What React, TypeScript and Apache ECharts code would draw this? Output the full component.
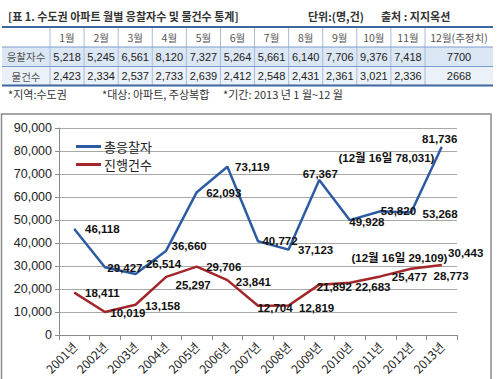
import React, { useEffect, useRef } from "react";
import * as echarts from "echarts";

// ---- chart data ----
const years = ["2001년", "2002년", "2003년", "2004년", "2005년", "2006년", "2007년", "2008년", "2009년", "2010년", "2011년", "2012년", "2013년"];
const totalBidders = [46118, 29427, 26514, 36660, 62093, 73119, 40772, 37123, 67367, 49928, 53820, 53268, 81736];
const caseCounts = [18411, 10019, 13158, 25297, 29706, 23841, 12704, 12819, 21892, 22683, 25477, 28773, 30443];
const seriesNames = ["총응찰자", "진행건수"];
const yTicks = [0, 10000, 20000, 30000, 40000, 50000, 60000, 70000, 80000, 90000];
const bidderNote = "(12월 16일 78,031)";
const caseNote = "(12월 16일 29,109)";
const bidderNoteValue = 77000;
const caseNoteValue = 33500;

// ---- table data ----
const tableTitle = "[표 1. 수도권 아파트 월별 응찰자수 및 물건수 통계]";
const unitText = "단위:(명,건)";
const sourceText = "출처 : 지지옥션";
const months = ["1월", "2월", "3월", "4월", "5월", "6월", "7월", "8월", "9월", "10월", "11월", "12월(추정치)"];
const rowLabels = ["응찰자수", "물건수"];
const monthlyBidders = ["5,218", "5,245", "6,561", "8,120", "7,327", "5,264", "5,661", "6,140", "7,706", "9,376", "7,418", "7700"];
const monthlyCases = ["2,423", "2,334", "2,537", "2,733", "2,639", "2,412", "2,548", "2,431", "2,361", "3,021", "2,336", "2668"];
const footnotes = ["*지역:수도권", "*대상: 아파트, 주상복합", "*기간: 2013 년 1 월~12 월"];

// label offsets (layout only)
const bidderLabelOffsets = [[28, 0], [20, 1], [28, -10], [23, -5], [27, 1], [25, 0], [22, 0], [27, 0], [1, -6], [17, 2], [18, 0], [29, 2], [-2, -8]];
const caseLabelOffsets = [[28, 0], [23, 1], [27, 1], [27, 8], [27, 0], [26, 2], [17, 2], [28, 2], [15, 2], [23, 4], [29, 1], [40, 7], [24, -12]];

const BLUE = "#2d5ba3";
const RED = "#a3262a";
const KFONT = '"Noto Sans CJK KR", "Liberation Sans", sans-serif';
const NFONT = '"Liberation Sans", "Noto Sans CJK KR", sans-serif';

function text(x: number, y: number, t: string, opts: any = {}) {
  return {
    type: "text",
    x,
    y,
    silent: true,
    z: 10,
    style: {
      text: t,
      fill: opts.fill || "#333",
      fontSize: opts.fontSize || 11,
      fontWeight: opts.fontWeight || "normal",
      fontFamily: opts.fontFamily || KFONT,
      align: opts.align || "left",
      verticalAlign: "middle",
      textAlign: opts.align || "left",
      textVerticalAlign: "middle",
    },
  };
}

function buildTable() {
  const els: any[] = [];
  const left = 2;
  const firstColRight = 50;
  const lastColLeft = 425;
  const right = 493;
  const colW = (lastColLeft - firstColRight) / 11;
  const bounds: number[] = [left, firstColRight];
  for (let i = 1; i <= 11; i++) bounds.push(firstColRight + colW * i);
  bounds.push(right);
  const rowTops = [27, 47, 66.5, 85.5];
  const fills = ["#ffffff", "#dce7f5", "#ebf1f9"];
  for (let r = 0; r < 3; r++) {
    els.push({
      type: "rect",
      silent: true,
      z: 1,
      shape: { x: left, y: rowTops[r], width: right - left, height: rowTops[r + 1] - rowTops[r] },
      style: { fill: fills[r] },
    });
  }
  for (let i = 1; i < bounds.length - 1; i++) {
    els.push({
      type: "line",
      silent: true,
      z: 2,
      shape: { x1: bounds[i], y1: rowTops[0], x2: bounds[i], y2: rowTops[3] },
      style: { stroke: "#a9bcd8", lineWidth: 1 },
    });
  }
  rowTops.forEach((y, i) => {
    const outer = i === 0 || i === rowTops.length - 1;
    els.push({
      type: "line",
      silent: true,
      z: 3,
      shape: { x1: left, y1: y, x2: right, y2: y },
      style: { stroke: outer ? "#3f679f" : "#7a9ccc", lineWidth: outer ? 2 : 1 },
    });
  });
  const center = (c: number) => (bounds[c] + bounds[c + 1]) / 2;
  const mid = (r: number) => (rowTops[r] + rowTops[r + 1]) / 2;
  months.forEach((m, i) => els.push(text(center(i + 1), mid(0), m, { align: "center", fill: "#555", fontSize: 10.5 })));
  els.push(text(center(0), mid(1), rowLabels[0], { align: "center", fill: "#555", fontSize: 10.5 }));
  els.push(text(center(0), mid(2), rowLabels[1], { align: "center", fill: "#555", fontSize: 10.5 }));
  monthlyBidders.forEach((v, i) => els.push(text(center(i + 1), mid(1), v, { align: "center", fill: "#222", fontSize: 11, fontFamily: NFONT })));
  monthlyCases.forEach((v, i) => els.push(text(center(i + 1), mid(2), v, { align: "center", fill: "#222", fontSize: 11, fontFamily: NFONT })));
  els.push(text(8, 16, tableTitle, { fontWeight: "bold", fontSize: 11, fill: "#333" }));
  els.push(text(308, 16, unitText, { fontWeight: "bold", fontSize: 11, fill: "#333" }));
  els.push(text(381, 16, sourceText, { fontWeight: "bold", fontSize: 11, fill: "#333" }));
  const fx = [8, 102, 223];
  footnotes.forEach((f, i) => els.push(text(fx[i], 94, f, { fontSize: 11, fill: "#333" })));
  els.push({
    type: "rect",
    silent: true,
    z: 0,
    shape: { x: 1.5, y: 114, width: 489.5, height: 280 },
    style: { fill: "none", stroke: "#8a8a8a", lineWidth: 1.5 },
  });
  return els;
}

const dataLabel = {
  show: true,
  position: "inside",
  fontSize: 11.5,
  fontWeight: "bold",
  fontFamily: NFONT,
  color: "#111",
};

export default function App() {
  const ref = useRef<HTMLDivElement>(null);
  useEffect(() => {
    document.body.style.margin = "0";
    if (!ref.current) return;
    const chart = echarts.init(ref.current, undefined, { renderer: "svg" });
    const option: any = {
      animation: false,
      backgroundColor: "#ffffff",
      graphic: buildTable(),
      legend: {
        data: seriesNames.map((n) => ({ name: n, icon: "rect" })),
        orient: "vertical",
        left: 71,
        top: 135,
        itemWidth: 25,
        itemHeight: 3,
        itemGap: 5,
        textStyle: { fontSize: 13, fontFamily: KFONT, color: "#222", padding: [0, 0, 0, -2] },
      },
      grid: { left: 59, right: 41, top: 128, bottom: 44, containLabel: false },
      xAxis: {
        type: "category",
        data: years,
        boundaryGap: true,
        axisLine: { lineStyle: { color: "#8a8a8a", width: 1 } },
        axisTick: { show: true, interval: 0, length: 5, lineStyle: { color: "#8a8a8a" } },
        axisLabel: {
          interval: 0,
          rotate: 45,
          margin: 9,
          fontSize: 12,
          fontFamily: KFONT,
          color: "#222",
        },
      },
      yAxis: {
        type: "value",
        min: yTicks[0],
        max: yTicks[yTicks.length - 1],
        interval: yTicks[1] - yTicks[0],
        axisLine: { show: true, lineStyle: { color: "#8a8a8a" } },
        axisTick: { show: true, length: 4, lineStyle: { color: "#8a8a8a" } },
        axisLabel: {
          margin: 7,
          fontSize: 12.5,
          fontFamily: NFONT,
          color: "#222",
          formatter: (v: number) => v.toLocaleString("en-US"),
        },
        splitLine: { lineStyle: { color: "#a8a8a8", width: 1 } },
      },
      series: [
        {
          name: seriesNames[0],
          type: "line",
          data: totalBidders.map((v, i) => ({ value: v, label: { offset: bidderLabelOffsets[i] } })),
          symbol: "circle",
          symbolSize: 1,
          itemStyle: { color: BLUE },
          lineStyle: { color: BLUE, width: 2.5 },
          label: { ...dataLabel, formatter: (p: any) => Number(p.value).toLocaleString("en-US") },
          markPoint: {
            symbol: "circle",
            symbolSize: 1,
            itemStyle: { color: "rgba(0,0,0,0)" },
            label: { show: true, position: "inside", offset: [6, 0], fontSize: 11.5, fontWeight: "bold", fontFamily: NFONT, color: "#111", formatter: () => bidderNote },
            data: [{ coord: [years[10], bidderNoteValue] }],
          },
        },
        {
          name: seriesNames[1],
          type: "line",
          data: caseCounts.map((v, i) => ({ value: v, label: { offset: caseLabelOffsets[i] } })),
          symbol: "circle",
          symbolSize: 1,
          itemStyle: { color: RED },
          lineStyle: { color: RED, width: 2.5 },
          label: { ...dataLabel, formatter: (p: any) => Number(p.value).toLocaleString("en-US") },
          markPoint: {
            symbol: "circle",
            symbolSize: 1,
            itemStyle: { color: "rgba(0,0,0,0)" },
            label: { show: true, position: "inside", offset: [19, 0], fontSize: 11.5, fontWeight: "bold", fontFamily: NFONT, color: "#111", formatter: () => caseNote },
            data: [{ coord: [years[10], caseNoteValue] }],
          },
        },
      ],
    };
    chart.setOption(option);
    return () => chart.dispose();
  }, []);
  return <div ref={ref} style={{ width: 498, height: 379 }} />;
}
